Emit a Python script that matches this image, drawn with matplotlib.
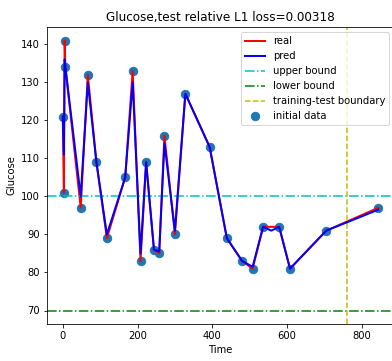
import numpy as np
import matplotlib.pyplot as plt

# measured glucose samples
time = [0, 3, 5, 7, 48, 67, 90, 118, 167, 187, 208, 223, 244, 258, 272, 300,
        328, 393, 439, 480, 508, 536, 579, 608, 705, 844]
glucose = [121, 101, 141, 134, 97, 132, 109, 89, 105, 133, 83, 109, 86, 85, 116, 90,
           127, 113, 89, 83, 81, 92, 92, 81, 91, 97]

# model prediction
pred_time = [0, 3, 5, 7, 48, 67, 90, 118, 167, 187, 208, 223, 244, 258, 272, 300,
             328, 393, 439, 480, 508, 536, 558, 579, 608, 705, 844]
pred = [121, 111, 136, 134, 100, 130, 109, 90, 105, 130, 85, 109, 86, 85.5, 114, 91,
        127, 113, 89, 83, 81.5, 92, 91, 92, 81, 91, 96.5]

upper = 100
lower = 70
boundary = 760
loss = 0.00318

fig = plt.figure(figsize=(392 / 72, 361 / 72), dpi=72)
ax = fig.add_axes([47 / 392, 37 / 361, 347 / 392, 297 / 361])

ax.scatter(time, glucose, s=70, color='tab:blue', label='initial data', zorder=1)
ax.plot(time, glucose, 'r', lw=2, label='real', zorder=2)
ax.plot(pred_time, pred, 'b', lw=2, label='pred', zorder=3)
ax.axhline(upper, color='c', ls='-.', lw=1.5, label='upper bound')
ax.axhline(lower, color='g', ls='-.', lw=1.5, label='lower bound')
ax.axvline(boundary, color='y', ls='--', lw=1.5, label='training-test boundary')

ax.set_title('Glucose,test relative L1 loss=%.5f' % loss, fontsize=12)
ax.set_xlabel('Time')
ax.set_ylabel('Glucose')
ax.set_xticks([0, 200, 400, 600, 800])

handles, labels = ax.get_legend_handles_labels()
order = ['real', 'pred', 'upper bound', 'lower bound', 'training-test boundary', 'initial data']
hl = dict(zip(labels, handles))
ax.legend([hl[k] for k in order], order, loc='upper right')

fig.savefig('out.png', dpi=72)
